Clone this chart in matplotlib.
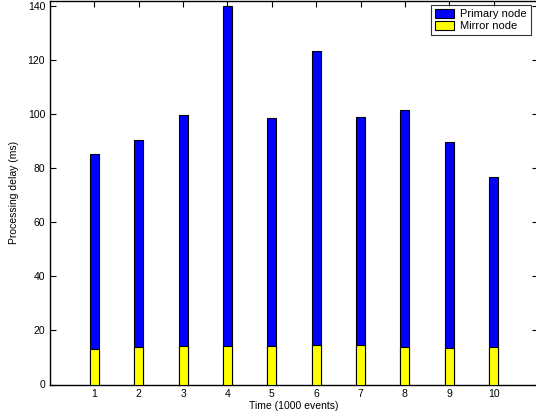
import numpy as np
import matplotlib
matplotlib.use("Agg")
import matplotlib.pyplot as plt

plt.rcParams['font.family'] = ['Liberation Sans', 'DejaVu Sans']

# values
time_k = [1, 2, 3, 4, 5, 6, 7, 8, 9, 10]
primary = [85.4, 90.4, 99.8, 140.0, 98.6, 123.5, 99.0, 101.6, 89.9, 76.9]
mirror = [13.3, 13.8, 14.3, 14.1, 14.3, 14.6, 14.7, 14.0, 13.7, 14.0]
y_ticks = [0, 20, 40, 60, 80, 100, 120, 140]

W, H = 536, 417
fig = plt.figure(figsize=(W / 100, H / 100), dpi=100)
# axes box runs slightly past the right edge of the picture, like the source
ax = fig.add_axes([50 / W, (H - 384.5) / H, (538 - 50) / W, (384.5 - 1) / H])

ax.bar(time_k, primary, width=0.2, color='#0000ff', edgecolor='black',
       linewidth=0.8, label='Primary node', zorder=2)
ax.bar(time_k, mirror, width=0.2, color='#ffff00', edgecolor='black',
       linewidth=0.8, label='Mirror node', zorder=3)

ax.set_xlim(0, 11)
ax.set_ylim(0, 142)
ax.set_xticks(time_k)
ax.set_yticks(y_ticks)
ax.tick_params(direction='in', top=True, right=True, labelsize=7.5, length=4, width=0.8)
for sp in ax.spines.values():
    sp.set_linewidth(1.0)

ax.set_xlabel('Time (1000 events)', fontsize=7.5, labelpad=1)
ax.set_ylabel('Processing delay (ms)', fontsize=7.5, labelpad=6)

leg = fig.legend(loc='upper left', bbox_to_anchor=(431 / W, 1 - 5 / H),
                 fontsize=8, frameon=True, fancybox=False, borderpad=0.35,
                 handlelength=1.7, handleheight=0.85, handletextpad=0.6,
                 labelspacing=0.15, borderaxespad=0)
leg.get_frame().set_edgecolor('black')
leg.get_frame().set_linewidth(0.8)

fig.savefig('out.png', dpi=100)
